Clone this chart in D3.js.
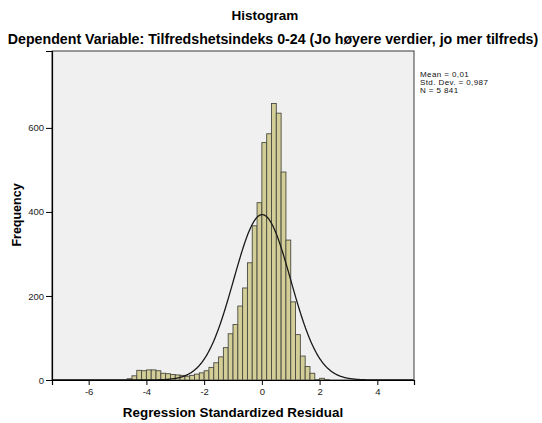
<!DOCTYPE html>
<html>
<head>
<meta charset="utf-8">
<script src="https://cdn.jsdelivr.net/npm/d3@7"></script>
<style>
  body { margin: 0; background: #fff; }
  svg text { font-family: "Liberation Sans", Arial, sans-serif; }
</style>
</head>
<body>
<div id="chart"></div>
<script>
// histogram bins: first lower edge and width, counts
let firstEdge = -28 / 6;
let binWidth = 1 / 6;
let counts = [3, 10, 23, 22, 24, 24, 22, 16, 15, 13, 12, 11, 9, 11, 14, 17,
    22, 30, 41, 55, 77, 110, 132, 176, 219, 279, 367, 422,
    565, 586, 658, 635, 495, 333, 186, 108, 57, 32, 16, 1, 4, 1];

let statMean = 0.01;
let statSd = 0.987;
let statN = 5841;
let statLabels = ["Mean = 0,01", "Std. Dev. = 0,987", "N = 5 841"];

let xTicks = [-6, -4, -2, 0, 2, 4];
let yTicks = [0, 200, 400, 600];

let W = 542, H = 423;
let plot = { left: 52, right: 414, top: 51, bottom: 380 };

let svg = d3.select('#chart').append('svg')
    .attr('width', W)
    .attr('height', H);

let x = d3.scaleLinear()
    .domain([-7.27, 5.27])
    .range([plot.left, plot.right]);

let y = d3.scaleLinear()
    .domain([0, 783])
    .range([plot.bottom, plot.top]);

// plot background
svg.append('rect')
    .attr('x', plot.left)
    .attr('y', plot.top)
    .attr('width', plot.right - plot.left)
    .attr('height', plot.bottom - plot.top)
    .style('fill', '#f0f0f0')
    .style('stroke', '#3a3a3a')
    .style('stroke-width', 1);

let bins = counts.map(function (c, i) {
    return { x0: firstEdge + i * binWidth, x1: firstEdge + (i + 1) * binWidth, count: c };
});

svg.append('g').selectAll('rect').data(bins)
    .enter().append('rect')
    .attr('x', function (d) { return x(d.x0); })
    .attr('width', function (d) { return x(d.x1) - x(d.x0); })
    .attr('y', function (d) { return y(d.count); })
    .attr('height', function (d) { return y(0) - y(d.count); })
    .style('fill', '#d3ce97')
    .style('stroke', '#4a4a40')
    .style('stroke-width', 0.9);

// fitted normal curve
let normal = function (v) {
    let z = (v - statMean) / statSd;
    return statN * binWidth / (statSd * Math.sqrt(2 * Math.PI)) * Math.exp(-0.5 * z * z);
};
let curveX = d3.range(x.domain()[0], x.domain()[1], 0.02);
let line = d3.line()
    .x(function (d) { return x(d); })
    .y(function (d) { return y(normal(d)); });

svg.append('path')
    .datum(curveX)
    .attr('d', line)
    .style('fill', 'none')
    .style('stroke', '#1a1a1a')
    .style('stroke-width', 1.3);

// axes
let xAxis = d3.axisBottom(x).tickValues(xTicks).tickSize(5).tickPadding(3)
    .tickFormat(d3.format('d'));
let xg = svg.append('g')
    .attr('transform', 'translate(0,' + plot.bottom + ')')
    .call(xAxis);

let yAxis = d3.axisLeft(y).tickValues(yTicks).tickSize(6).tickPadding(2);
let yg = svg.append('g')
    .attr('transform', 'translate(' + plot.left + ',0)')
    .call(yAxis);

[xg, yg].forEach(function (g) {
    g.select('.domain').style('stroke', '#000').style('stroke-width', 1.2);
    g.selectAll('line').style('stroke', '#000');
    g.selectAll('text')
        .style('font-size', '9.5px')
        .style('fill', '#222');
});
xg.selectAll('text').text(function (d) { return d < 0 ? '-' + Math.abs(d) : d; });

// titles
svg.append('text')
    .attr('x', 265).attr('y', 20)
    .attr('text-anchor', 'middle')
    .style('font-size', '13.5px').style('font-weight', 'bold')
    .text('Histogram');

svg.append('text')
    .attr('x', 273).attr('y', 44)
    .attr('text-anchor', 'middle')
    .style('font-size', '14.2px').style('font-weight', 'bold')
    .text('Dependent Variable: Tilfredshetsindeks 0-24 (Jo høyere verdier, jo mer tilfreds)');

svg.append('text')
    .attr('x', 233).attr('y', 417)
    .attr('text-anchor', 'middle')
    .style('font-size', '13.4px').style('font-weight', 'bold')
    .text('Regression Standardized Residual');

svg.append('text')
    .attr('transform', 'translate(21,215) rotate(-90)')
    .attr('text-anchor', 'middle')
    .style('font-size', '12.5px').style('font-weight', 'bold')
    .text('Frequency');

// stats legend
svg.append('g').selectAll('text').data(statLabels)
    .enter().append('text')
    .attr('x', 420)
    .attr('y', function (d, i) { return 77 + i * 8; })
    .style('font-size', '8px')
    .style('letter-spacing', '0.4px')
    .style('fill', '#111')
    .text(function (d) { return d; });
</script>
</body>
</html>
